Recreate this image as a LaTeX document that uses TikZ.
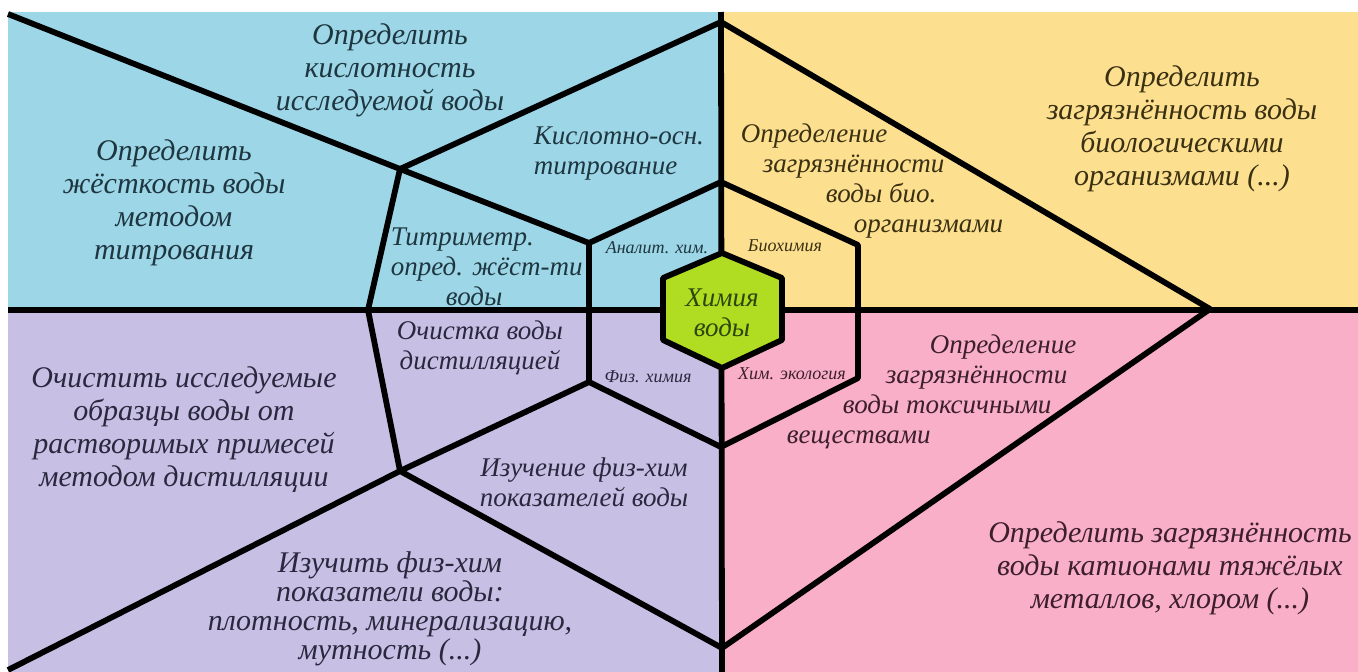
\documentclass[tikz,border=0pt]{standalone}
\usepackage{fontspec}
\setmainfont{Liberation Serif}
\definecolor{skyfill}{HTML}{9DD6E7}
\definecolor{sandfill}{HTML}{FDE08F}
\definecolor{lilacfill}{HTML}{C8C0E4}
\definecolor{rosefill}{HTML}{F9AFC7}
\definecolor{limefill}{HTML}{B0DD22}
\definecolor{skyink}{HTML}{1E3640}
\definecolor{sandink}{HTML}{3A3012}
\definecolor{lilacink}{HTML}{2A283E}
\definecolor{roseink}{HTML}{3C1E2C}
\definecolor{limeink}{HTML}{2C460C}
\begin{document}
\begin{tikzpicture}[x=1pt,y=-1pt,line width=5.8pt,line join=round,
  big/.style={font=\itshape\fontsize{30}{33}\selectfont,align=center,inner sep=0pt},
  mid/.style={font=\itshape\fontsize{27}{30}\selectfont,align=center,inner sep=0pt},
  small/.style={font=\itshape\fontsize{18}{20}\selectfont,inner sep=0pt}]
  \useasboundingbox (0,0) rectangle (1358,672);
  \fill[skyfill] (8,12) rectangle (721,310);
  \fill[sandfill] (721,12) rectangle (1358,310);
  \fill[lilacfill] (8,310) rectangle (721,672);
  \fill[rosefill] (721,310) rectangle (1358,672);

  \coordinate (kA) at (400,169);
  \coordinate (kB) at (400,471);
  \coordinate (bend) at (368,310);
  \coordinate (topV) at (721,22);
  \coordinate (tipR) at (1210,309);
  \coordinate (botV) at (722,648);

  \coordinate (r1) at (721,182);
  \coordinate (r2) at (589,243);
  \coordinate (r3) at (589,382);
  \coordinate (r4) at (721,447);
  \coordinate (r5) at (858,378);
  \coordinate (r6) at (858,245);

  \draw (8,310) -- (1358,310);
  \draw (721,12) -- (722,672);
  \draw (8,14) -- (kA) -- (r2);
  \draw (kA) -- (topV) -- (tipR) -- (botV) -- (kB) -- (8,670);
  \draw (kA) -- (bend) -- (kB) -- (r3);
  \draw (r1) -- (r2) -- (r3) -- (r4) -- (r5) -- (r6) -- cycle;
  \draw[fill=limefill] (722,253) -- (782,278) -- (782,340) -- (722,368)
    -- (663,340) -- (663,278) -- cycle;

  \node[mid,text=limeink] (core) at (722,313) {Химия\\воды};

  \node[small,text=skyink] (anal) at (657,248) {Аналит. хим.};
  \node[small,text=sandink] (bioch) at (785,246) {Биохимия};
  \node[small,text=lilacink] (physch) at (648,377) {Физ. химия};
  \node[small,text=roseink] (ecol) at (792,374) {Хим. экология};

  \node[big,text=skyink] (acid) at (390,70) {Определить\\кислотность\\исследуемой воды};
  \node[big,text=skyink] (hard) at (174,203) {Определить\\жёсткость воды\\методом\\титрования};
  \node[mid,text=skyink,align=left,anchor=west] (acidbase) at (531,154) {Кислотно-осн.\\титрование};
  \node[mid,text=skyink,align=left,anchor=west] (titrim) at (388,267) {Титриметр.\\опред. жёст-ти\\\hspace*{55pt}воды};

  \node[mid,text=sandink,align=left,anchor=west] (biotest) at (738,181) {Определение\\\hspace*{22pt}загрязнённости\\\hspace*{85pt}воды био.\\\hspace*{113pt}организмами};
  \node[big,text=sandink] (bioorg) at (1182,129) {Определить\\загрязнённость воды\\биологическими\\организмами (...)};

  \node[big,text=lilacink] (distil) at (184,430) {Очистить исследуемые\\образцы воды от\\растворимых примесей\\методом дистилляции};
  \node[mid,text=lilacink] (cleanw) at (480,348) {Очистка воды\\дистилляцией};
  \node[mid,text=lilacink] (physic) at (584,482) {Изучение физ-хим\\показателей воды};
  \node[big,text=lilacink,font=\itshape\fontsize{30}{29}\selectfont] (measure) at (390,609) {Изучить физ-хим\\показатели воды:\\плотность, минерализацию,\\мутность (...)};

  \node[mid,text=roseink,align=left,anchor=west] (toxic) at (784,392) {\hspace*{143pt}Определение\\\hspace*{99pt}загрязнённости\\\hspace*{56pt}воды токсичными\\веществами};
  \node[big,text=roseink] (metals) at (1170,568) {Определить загрязнённость\\воды катионами тяжёлых\\металлов, хлором (...)};
\end{tikzpicture}
\end{document}
